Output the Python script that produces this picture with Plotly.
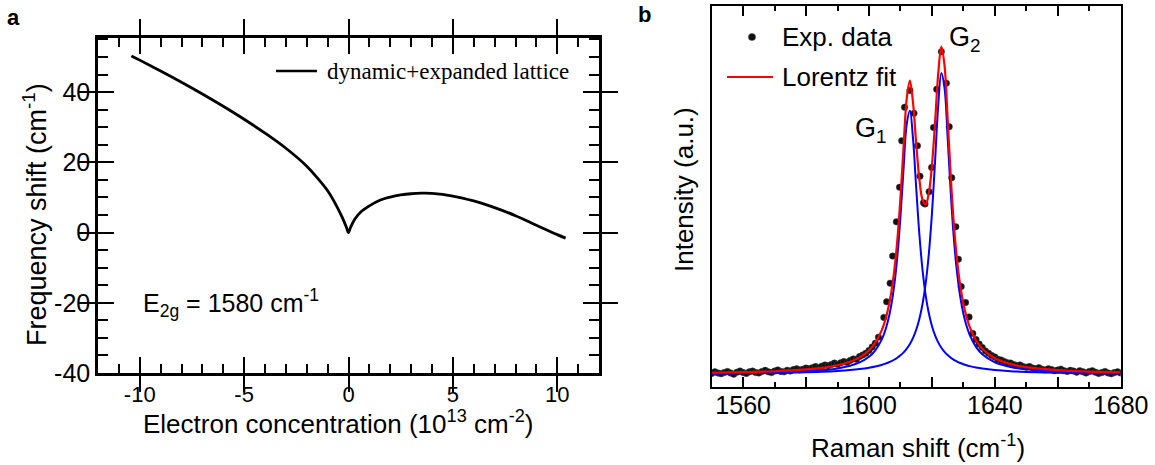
import plotly.graph_objects as go

W, H = 1155, 465

# ---------------- Panel a data ----------------
conc = [-10.4, -10, -9, -8, -7, -6, -5, -4, -3, -2, -1.5, -1, -0.6, -0.3, -0.1, 0,
        0.1, 0.3, 0.6, 1, 1.5, 2, 2.5, 3, 3.5, 4, 5, 6, 7, 8, 9, 10, 10.4]
shift = [50.3, 49.1, 46.0, 42.8, 39.45, 35.95, 32.25, 28.3, 24.0, 18.9, 15.6, 11.9, 7.9, 4.3, 1.5, 0.0,
         1.5, 3.8, 5.9, 7.6, 9.2, 10.1, 10.7, 11.05, 11.2, 11.15, 10.4, 9.0, 7.1, 4.8, 2.1, -0.6, -1.6]
a_xticks = [-10, -5, 0, 5, 10]
a_xtext = ['-10', '-5', '0', '5', '10']
a_xminor = [-11, -9, -8, -7, -6, -4, -3, -2, -1, 1, 2, 3, 4, 6, 7, 8, 9, 11]
a_yticks = [-40, -20, 0, 20, 40]
a_ytext = ['-40', '-20', '0', '20', '40']
a_yminor = [-35, -30, -25, -15, -10, -5, 5, 10, 15, 25, 30, 35, 45, 50, 55]

# ---------------- Panel b data ----------------
raman_exp = [1550, 1551, 1552, 1553, 1554, 1555, 1556, 1557, 1558, 1559,
             1560, 1561, 1562, 1563, 1564, 1565, 1566, 1567, 1568, 1569,
             1570, 1571, 1572, 1573, 1574, 1575, 1576, 1577, 1578, 1579,
             1580, 1581, 1582, 1583, 1584, 1585, 1586, 1587, 1588, 1589,
             1590, 1591, 1592, 1593, 1594, 1595, 1596, 1597, 1598, 1599,
             1600, 1601, 1602, 1603,
             1604.7, 1605.6, 1606.7, 1607.5, 1608.7, 1609.7, 1610.4, 1611.3, 1613.0, 1614.3,
             1615.4, 1616.2, 1617.3, 1617.8, 1619.1, 1619.9, 1620.5, 1621.5, 1623.0, 1624.6,
             1625.5, 1626.3, 1627.6, 1628.4, 1629.3, 1630.7, 1631.8,
             1633, 1634, 1635, 1636, 1637, 1638, 1639, 1640, 1641, 1642,
             1643, 1644, 1645, 1646, 1647, 1648, 1649, 1650, 1651, 1652,
             1653, 1654, 1655, 1656, 1657, 1658, 1659, 1660, 1661, 1662,
             1663, 1664, 1665, 1666, 1667, 1668, 1669, 1670, 1671, 1672,
             1673, 1674, 1675, 1676, 1677, 1678, 1679, 1680]
int_exp = [0.035, 0.039, 0.036, 0.034, 0.037, 0.040, 0.036, 0.033, 0.038, 0.041,
           0.037, 0.035, 0.039, 0.041, 0.037, 0.036, 0.040, 0.043, 0.039, 0.037,
           0.041, 0.044, 0.040, 0.039, 0.043, 0.041, 0.045, 0.047, 0.044, 0.046,
           0.049, 0.047, 0.050, 0.053, 0.050, 0.054, 0.057, 0.055, 0.058, 0.062,
           0.059, 0.063, 0.066, 0.064, 0.069, 0.073, 0.072, 0.079, 0.083, 0.088,
           0.095, 0.104, 0.114, 0.130,
           0.182, 0.223, 0.272, 0.343, 0.433, 0.524, 0.646, 0.734, 0.778, 0.718,
           0.633, 0.553, 0.483, 0.480, 0.512, 0.576, 0.681, 0.781, 0.880, 0.797,
           0.683, 0.549, 0.420, 0.335, 0.263, 0.221, 0.183,
           0.140, 0.124, 0.112, 0.103, 0.094, 0.088, 0.082, 0.078, 0.072, 0.070,
           0.066, 0.063, 0.062, 0.058, 0.056, 0.057, 0.053, 0.051, 0.053, 0.049,
           0.047, 0.050, 0.046, 0.044, 0.047, 0.045, 0.042, 0.044, 0.046, 0.042,
           0.040, 0.043, 0.041, 0.038, 0.042, 0.039, 0.036, 0.040, 0.042, 0.038,
           0.035, 0.037, 0.040, 0.036, 0.034, 0.037, 0.039, 0.036]

raman_fit = [1550, 1560, 1570, 1580, 1585, 1590, 1594, 1597, 1600, 1602,
             1604, 1605, 1606, 1607, 1608, 1609, 1610, 1611, 1612, 1613,
             1614, 1615, 1616, 1617, 1618, 1619, 1620, 1621, 1622, 1623,
             1624, 1625, 1626, 1627, 1628, 1629, 1630, 1631, 1632,
             1634, 1636, 1640, 1645, 1650, 1660, 1670, 1680]
fit_total = [0.0367, 0.0382, 0.0406, 0.0453, 0.0495, 0.0563, 0.0656, 0.0769, 0.0954, 0.1155,
             0.1472, 0.1706, 0.2017, 0.2440, 0.3027, 0.3847, 0.4960, 0.6324, 0.7576, 0.8040,
             0.7455, 0.6387, 0.5458, 0.4913, 0.4786, 0.5078, 0.5806, 0.6945, 0.8224, 0.8936,
             0.8439, 0.7033, 0.5494, 0.4237, 0.3314, 0.2654, 0.2179, 0.1832, 0.1572,
             0.1220, 0.0999, 0.0749, 0.0595, 0.0513, 0.0433, 0.0396, 0.0376]
fit_g1 = [0.0350, 0.0359, 0.0374, 0.0404, 0.0432, 0.0481, 0.0550, 0.0637, 0.0787, 0.0956,
          0.1231, 0.1438, 0.1718, 0.2105, 0.2649, 0.3416, 0.4466, 0.5752, 0.6906, 0.7246,
          0.6501, 0.5222, 0.4010, 0.3077, 0.2408, 0.1935, 0.1596, 0.1348, 0.1164, 0.1024,
          0.0916, 0.0830, 0.0762, 0.0706, 0.0661, 0.0623, 0.0591, 0.0564, 0.0541,
          0.0504, 0.0476, 0.0437, 0.0407, 0.0388, 0.0366, 0.0354, 0.0348]
fit_g2 = [0.0347, 0.0353, 0.0362, 0.0379, 0.0392, 0.0412, 0.0436, 0.0462, 0.0497, 0.0529,
          0.0571, 0.0598, 0.0629, 0.0665, 0.0708, 0.0761, 0.0824, 0.0902, 0.1000, 0.1124,
          0.1284, 0.1495, 0.1778, 0.2166, 0.2708, 0.3473, 0.4540, 0.5927, 0.7390, 0.8242,
          0.7853, 0.6533, 0.5062, 0.3861, 0.2983, 0.2361, 0.1918, 0.1598, 0.1361,
          0.1046, 0.0853, 0.0642, 0.0519, 0.0456, 0.0397, 0.0372, 0.0358]
b_xticks = [1560, 1580, 1600, 1620, 1640, 1660, 1680]
b_xminor = [1550, 1570, 1590, 1610, 1630, 1650, 1670]
b_xlabels = [1560, 1600, 1640, 1680]
b_xtext = ['1560', '1600', '1640', '1680']

SANS = 'Liberation Sans, Arial, sans-serif'
SERIF = 'Liberation Serif, Times New Roman, serif'


def px(x):
    return x / W


def py(y):
    return 1 - y / H


fig = go.Figure()

fig.add_trace(go.Scatter(x=conc, y=shift, mode='lines', xaxis='x', yaxis='y',
                         line=dict(color='black', width=2.8, shape='spline', smoothing=1),
                         showlegend=False))
fig.add_trace(go.Scatter(x=raman_exp, y=int_exp, mode='markers', xaxis='x2', yaxis='y2',
                         marker=dict(color='#111111', size=6.5,
                                     line=dict(color='#444444', width=0.5)),
                         showlegend=False))
fig.add_trace(go.Scatter(x=raman_fit, y=fit_g1, mode='lines', xaxis='x2', yaxis='y2',
                         line=dict(color='#0000ff', width=2, shape='spline'), showlegend=False))
fig.add_trace(go.Scatter(x=raman_fit, y=fit_g2, mode='lines', xaxis='x2', yaxis='y2',
                         line=dict(color='#0000ff', width=2, shape='spline'), showlegend=False))
fig.add_trace(go.Scatter(x=raman_fit, y=fit_total, mode='lines', xaxis='x2', yaxis='y2',
                         line=dict(color='#ff0000', width=2.2, shape='spline'), showlegend=False))
# empty helper traces so that the overlay tick axes get their subplots
for xa, ya in [('x3', 'y'), ('x', 'y3'), ('x4', 'y2'), ('x5', 'y2')]:
    fig.add_trace(go.Scatter(x=[], y=[], xaxis=xa, yaxis=ya, mode='markers',
                             showlegend=False, hoverinfo='skip'))

nogrid = dict(showgrid=False, zeroline=False)

fig.update_layout(
    width=W, height=H,
    margin=dict(l=0, r=0, t=0, b=0, autoexpand=False),
    paper_bgcolor='white', plot_bgcolor='white',
    # ---- panel a ----
    xaxis=dict(domain=[px(98), px(599)], anchor='y', range=[-12, 12],
               tickmode='array', tickvals=a_xticks, ticktext=a_xtext,
               ticks='inside', ticklen=16, tickwidth=2, tickcolor='black',
               showline=True, linewidth=2.5, linecolor='black', mirror='allticks',
               tickfont=dict(family=SANS, size=22, color='black'), **nogrid),
    xaxis3=dict(overlaying='x', anchor='y', range=[-12, 12],
                tickmode='array', tickvals=a_xminor, showticklabels=False,
                ticks='inside', ticklen=9, tickwidth=2, tickcolor='black',
                showline=False, mirror='allticks', **nogrid),
    yaxis=dict(domain=[py(373), py(38)], anchor='x', range=[-40, 55.4],
               tickmode='array', tickvals=a_yticks, ticktext=a_ytext,
               ticks='inside', ticklen=16, tickwidth=2, tickcolor='black',
               showline=True, linewidth=2.5, linecolor='black', mirror='allticks',
               tickfont=dict(family=SANS, size=25, color='black'), **nogrid),
    yaxis3=dict(overlaying='y', anchor='x', range=[-40, 55.4],
                tickmode='array', tickvals=a_yminor, showticklabels=False,
                ticks='inside', ticklen=10, tickwidth=2, tickcolor='black',
                showline=False, mirror='allticks', **nogrid),
    # ---- panel b ----
    xaxis2=dict(domain=[px(711.7), px(1120.7)], anchor='y2', range=[1550, 1680],
                tickmode='array', tickvals=b_xticks, showticklabels=False,
                ticks='inside', ticklen=10, tickwidth=1.5, tickcolor='black',
                showline=True, linewidth=2, linecolor='black', mirror='allticks', **nogrid),
    xaxis4=dict(overlaying='x2', anchor='y2', range=[1550, 1680],
                tickmode='array', tickvals=b_xminor, showticklabels=False,
                ticks='inside', ticklen=5, tickwidth=1.5, tickcolor='black',
                showline=False, mirror='allticks', **nogrid),
    xaxis5=dict(overlaying='x2', anchor='free', position=py(387.5), range=[1550, 1680],
                tickmode='array', tickvals=b_xlabels, ticktext=b_xtext,
                ticks='', showline=False,
                tickfont=dict(family=SANS, size=25, color='black'), **nogrid),
    yaxis2=dict(domain=[py(386.7), py(6)], anchor='x2', range=[0, 1],
                showticklabels=False, ticks='', showline=True, linewidth=2,
                linecolor='black', mirror=True, **nogrid),
)

ann = []
# panel labels
ann.append(dict(text='<b>a</b>', x=px(13), y=py(17), font=dict(family=SANS, size=22, color='black')))
ann.append(dict(text='<b>b</b>', x=px(644), y=py(15), font=dict(family=SANS, size=22, color='black')))
# axis titles
ann.append(dict(text='Electron concentration (10<sup>13</sup> cm<sup>-2</sup>)', x=px(338), y=py(422),
                font=dict(family=SANS, size=26, color='black')))
ann.append(dict(text='Frequency shift (cm<sup>-1</sup>)', x=px(35), y=py(215), textangle=-90,
                font=dict(family=SANS, size=27, color='black')))
ann.append(dict(text='Raman shift (cm<sup>-1</sup>)', x=px(918), y=py(446),
                font=dict(family=SANS, size=26, color='black')))
ann.append(dict(text='Intensity (a.u.)', x=px(684), y=py(190), textangle=-90,
                font=dict(family=SANS, size=26, color='black')))
# panel a texts
ann.append(dict(text='E<sub>2g</sub> = 1580 cm<sup>-1</sup>', x=px(141), y=py(303), xanchor='left',
                font=dict(family=SANS, size=25, color='black')))
ann.append(dict(text='dynamic+expanded lattice', x=px(325), y=py(71), xanchor='left',
                font=dict(family=SERIF, size=23, color='black')))
# panel b texts
ann.append(dict(text='Exp. data', x=px(780), y=py(37), xanchor='left',
                font=dict(family=SANS, size=26, color='black')))
ann.append(dict(text='Lorentz fit', x=px(780), y=py(77), xanchor='left',
                font=dict(family=SANS, size=26, color='black')))
ann.append(dict(text='G<sub>1</sub>', x=px(853), y=py(130), xanchor='left',
                font=dict(family=SANS, size=27, color='black')))
ann.append(dict(text='G<sub>2</sub>', x=px(947), y=py(39), xanchor='left',
                font=dict(family=SANS, size=27, color='black')))

for a in ann:
    a.setdefault('xanchor', 'center')
    a.update(xref='paper', yref='paper', yanchor='middle', showarrow=False)
fig.update_layout(annotations=ann)

shapes = [
    dict(type='line', xref='paper', yref='paper', x0=px(276), x1=px(317), y0=py(71), y1=py(71),
         line=dict(color='black', width=2.5)),
    dict(type='line', xref='paper', yref='paper', x0=px(727), x1=px(773), y0=py(77), y1=py(77),
         line=dict(color='#ff0000', width=2.2)),
    dict(type='circle', xref='paper', yref='paper', xsizemode='pixel', ysizemode='pixel',
         xanchor=px(752), yanchor=py(37), x0=-3.6, x1=3.6, y0=-3.6, y1=3.6,
         fillcolor='#111111', line=dict(color='#444444', width=0.5)),
]
fig.update_layout(shapes=shapes)

fig.write_html('out.html', config={'displayModeBar': False},
               post_script="document.body.style.margin='0';document.body.style.padding='0';")
